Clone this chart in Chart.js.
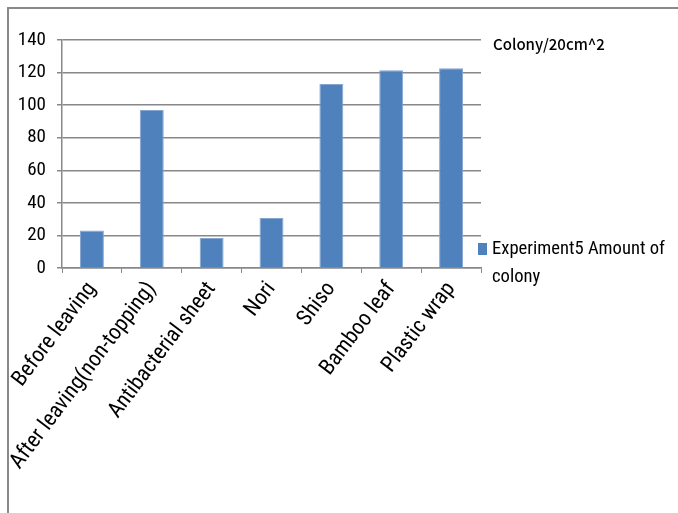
<!DOCTYPE html>
<html>
<head>
<meta charset="utf-8">
<script src="https://cdn.jsdelivr.net/npm/chart.js@4/dist/chart.umd.min.js"></script>
<style>
  html, body { margin: 0; padding: 0; background: #ffffff; }
  #wrap { position: relative; width: 678px; height: 513px; }
</style>
</head>
<body>
<div id="wrap"><canvas id="chart"></canvas></div>
<script>
// Colony counts per covering condition
const categories = [
  'Before leaving',
  'After leaving(non-topping)',
  'Antibacterial sheet',
  'Nori',
  'Shiso',
  'Bamboo leaf',
  'Plastic wrap'
];
const colonyCounts = [23, 97, 18.4, 30.7, 113, 121.5, 122.7];
const seriesName = 'Experiment5 Amount of colony';
const seriesLines = ['Experiment5 Amount of', 'colony'];
const unitLabel = 'Colony/20cm^2';
const yTicks = [0, 20, 40, 60, 80, 100, 120, 140];

const BAR_BLUE = '#4F81BD';
const GRID_GREY = '#888888';
const TEXT_FONT = '"Roboto Condensed", "Liberation Sans Narrow", sans-serif';

// Outer frame, unit caption and the single-entry legend
const decorations = {
  id: 'decorations',
  afterDraw(chart) {
    const ctx = chart.ctx;
    const area = chart.chartArea;
    ctx.save();
    // frame (top and left edges)
    ctx.strokeStyle = '#8a8a8a';
    ctx.lineWidth = 2;
    ctx.beginPath();
    ctx.moveTo(8, 513);
    ctx.lineTo(8, 8);
    ctx.lineTo(678, 8);
    ctx.stroke();

    // unit caption
    ctx.fillStyle = '#000000';
    ctx.font = '500 15px "Noto Sans CJK KR", "Noto Sans", sans-serif';
    ctx.textAlign = 'left';
    ctx.textBaseline = 'middle';
    ctx.fillText(unitLabel, area.right + 12, area.top + 4);

    // legend
    const ds = chart.data.datasets[0];
    const lx = area.right - 3;
    const ly = 243;
    ctx.fillStyle = ds.backgroundColor;
    ctx.fillRect(lx, ly, 9, 12);
    ctx.fillStyle = '#000000';
    ctx.font = '18.6px ' + TEXT_FONT;
    ctx.fillText(seriesLines[0], lx + 14, ly + 6);
    ctx.fillText(seriesLines[1], lx + 14, ly + 34);
    ctx.restore();
  }
};

new Chart(document.getElementById('chart'), {
  type: 'bar',
  data: {
    labels: categories,
    datasets: [{
      label: seriesName,
      data: colonyCounts,
      backgroundColor: BAR_BLUE,
      borderColor: '#86a6d2',
      borderWidth: 1,
      categoryPercentage: 1.0,
      barPercentage: 0.4
    }]
  },
  options: {
    responsive: true,
    maintainAspectRatio: false,
    animation: false,
    layout: { padding: { left: 0, right: 197, top: 40, bottom: 0 } },
    plugins: {
      legend: { display: false },
      title: { display: false },
      tooltip: { enabled: false }
    },
    scales: {
      x: {
        grid: {
          offset: true,
          drawOnChartArea: false,
          drawTicks: true,
          tickLength: 5,
          color: GRID_GREY,
          lineWidth: 1
        },
        border: { display: true, color: GRID_GREY, width: 1.5 },
        ticks: {
          color: '#000000',
          font: { family: TEXT_FONT, size: 22 },
          minRotation: 53,
          maxRotation: 53,
          autoSkip: false,
          padding: 4
        },
        afterFit(scale) { scale.height = 245; }
      },
      y: {
        min: 0,
        max: 140,
        afterBuildTicks(scale) {
          scale.ticks = yTicks.map(v => ({ value: v }));
        },
        grid: {
          color: GRID_GREY,
          lineWidth: 1.5,
          drawTicks: true,
          tickLength: 5
        },
        border: { display: true, color: GRID_GREY, width: 1.5 },
        ticks: {
          color: '#000000',
          font: { family: TEXT_FONT, size: 19 },
          padding: 11
        },
        afterFit(scale) { scale.width = 62; }
      }
    }
  },
  plugins: [decorations]
});
</script>
</body>
</html>
